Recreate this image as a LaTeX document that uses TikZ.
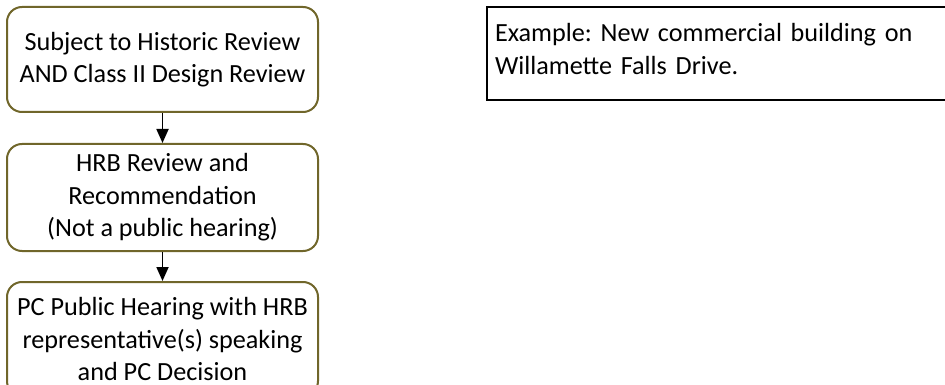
\documentclass[tikz,border=0pt]{standalone}
\usepackage{fontspec}
\setmainfont{Carlito}
\usetikzlibrary{arrows.meta}
\definecolor{olivedark}{RGB}{112,102,42}

\begin{document}
\begin{tikzpicture}[x=1pt,y=-1pt]
\tikzstyle{every node}=[font=\fontsize{26.2}{32.5}\selectfont\frenchspacing]
\tikzstyle{stepbox}=[draw=olivedark, line width=2pt, rounded corners=15pt, fill=white,
	minimum width=311pt, align=center, inner sep=0pt]
\tikzstyle{flow}=[line width=1.8pt, -{Triangle[width=12pt,length=14pt]}]
\clip (0,0) rectangle (945,385);

\node[stepbox, minimum height=105pt] (HistoricReview) at (162.5,59.5)
	{Subject to Historic Review\\AND Class II Design Review};
\node[stepbox, minimum height=107pt] (HRBReview) at (162.5,197.5)
	{HRB Review and\\Recommendation\\(Not a public hearing)};
\node[stepbox, minimum height=114pt] (PCHearing) at (162.5,339)
	{PC Public Hearing with HRB\\representative(s) speaking\\and PC Decision};

\node[draw, line width=2.5pt, minimum width=468pt, minimum height=93pt,
	text width=452pt, align=left, inner sep=0pt] (Example) at (721,53.5)
	{Example: New commercial building on\\Willamette Falls Drive.\rule[-9pt]{0pt}{9pt}};

\draw[flow] (HistoricReview) -- (HRBReview);
\draw[flow] (HRBReview) -- (PCHearing);

\end{tikzpicture}
\end{document}
